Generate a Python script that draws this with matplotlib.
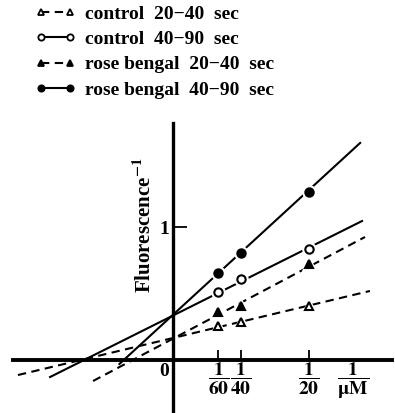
import matplotlib
matplotlib.use('Agg')
import matplotlib.pyplot as plt
from matplotlib.lines import Line2D

plt.rcParams['font.family'] = 'Liberation Serif'
plt.rcParams['font.weight'] = 'bold'
plt.rcParams['mathtext.fontset'] = 'stix'

# reciprocal concentration (1/uM) where fluorescence was measured
conc_inv = [1 / 60, 1 / 40, 1 / 20]
tick_labels = [r'$\mathbf{\dfrac{1}{60}}$', r'$\mathbf{\dfrac{1}{40}}$', r'$\mathbf{\dfrac{1}{20}}$']

# 1/fluorescence for each run
ctrl_20_40 = [0.256, 0.286, 0.406]
ctrl_40_90 = [0.511, 0.609, 0.835]
rb_20_40 = [0.361, 0.406, 0.722]
rb_40_90 = [0.654, 0.805, 1.263]

# ends of the fitted lines (x, y)
ctrl_20_40_fit_x = [-0.057, 0.0724]
ctrl_20_40_fit_y = [-0.113, 0.519]
ctrl_40_90_fit_x = [-0.0452, 0.0695]
ctrl_40_90_fit_y = [-0.128, 1.045]
rb_20_40_fit_x = [-0.0294, 0.0706]
rb_20_40_fit_y = [-0.158, 0.925]
rb_40_90_fit_x = [-0.0197, 0.0688]
rb_40_90_fit_y = [-0.03, 1.632]

labels = ['control  20\u221240  sec', 'control  40\u221290  sec',
          'rose bengal  20\u221240  sec', 'rose bengal  40\u221290  sec']

fig = plt.figure(figsize=(3.95, 4.13), dpi=100)
ax = fig.add_axes([0, 0, 1, 1])
ax.set_xlim(-173 / 2720, 222 / 2720)
ax.set_ylim(-53 / 133, 360 / 133)
ax.patch.set_alpha(0)

dash = (0, (4, 2.6))
series = [
    (ctrl_20_40, ctrl_20_40_fit_x, ctrl_20_40_fit_y, '^', 'white', dash),
    (ctrl_40_90, ctrl_40_90_fit_x, ctrl_40_90_fit_y, 'o', 'white', '-'),
    (rb_20_40, rb_20_40_fit_x, rb_20_40_fit_y, '^', 'black', dash),
    (rb_40_90, rb_40_90_fit_x, rb_40_90_fit_y, 'o', 'black', '-'),
]

handles = []
for (vals, fx, fy, mk, fc, ls), lab in zip(series, labels):
    ax.plot(fx, fy, color='black', lw=1.5, ls=ls, zorder=2)
    # white halo so the line breaks around each point
    ax.plot(conc_inv, vals, ls='none', marker=mk, ms=9.5, mfc='white',
            mec='white', zorder=3)
    ax.plot(conc_inv, vals, ls='none', marker=mk, ms=6, mfc=fc,
            mec='black', mew=1.5, zorder=4)
    handles.append(Line2D([], [], color='black', lw=1.5, ls=ls, marker=mk,
                          ms=4.5, mfc=fc, mec='black', mew=1.3))

for side in ['top', 'right']:
    ax.spines[side].set_visible(False)
ax.spines['left'].set_position(('data', 0))
ax.spines['bottom'].set_position(('data', 0))
ax.spines['left'].set_bounds(-0.383, 1.782)
ax.spines['bottom'].set_bounds(-0.0588, 0.0805)
ax.spines['left'].set_linewidth(2.4)
ax.spines['bottom'].set_linewidth(2.8)

ax.set_xticks(conc_inv, labels=tick_labels)
ax.tick_params(axis='x', direction='in', length=7, width=1.3, pad=1,
               labelsize=14)
ax.set_yticks([1], labels=['1'])
ax.tick_params(axis='y', direction='in', length=10, width=1.3, pad=3,
               labelsize=14)

ax.text(-0.0032, -0.09, '0', ha='center', va='center', fontsize=14)
ax.text(0.0662, -0.01, r'$\mathbf{\dfrac{1}{\mu M}}$', ha='center', va='top',
        fontsize=14)
ax.text(-0.0103, 1.015, 'Fluorescence$^{\\mathbf{-1}}$', rotation=90,
        ha='center', va='center', fontsize=15)

ax.legend(handles, labels, loc='upper left', bbox_to_anchor=(0.088, 0.988),
          frameon=False, numpoints=2, handlelength=2.1, handletextpad=0.5,
          labelspacing=0.4, borderpad=0, borderaxespad=0,
          prop={'family': 'Liberation Serif', 'weight': 'bold', 'size': 14})

fig.savefig('out.png', dpi=100)
